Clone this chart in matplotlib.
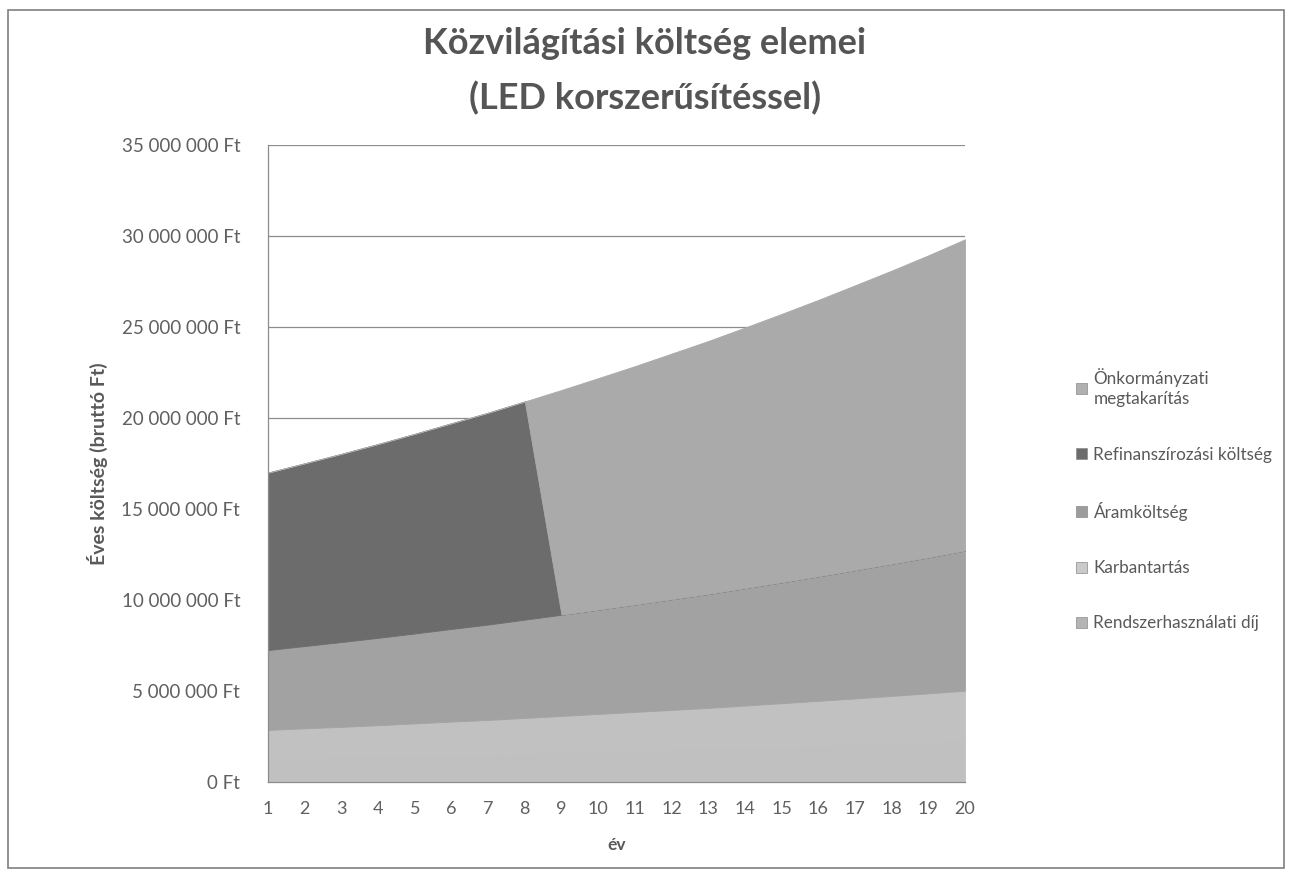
import matplotlib
matplotlib.use("Agg")
import matplotlib.pyplot as plt
from matplotlib.patches import Rectangle, Patch
from matplotlib.ticker import FuncFormatter, MultipleLocator

plt.rcParams['font.family'] = ['Lato', 'DejaVu Sans']

years = list(range(1, 21))
year_labels = [str(y) for y in years]

# values in million Ft
rendszer = [1.30, 1.34, 1.38, 1.42, 1.46, 1.51, 1.55, 1.60, 1.65, 1.70,
            1.75, 1.80, 1.85, 1.91, 1.97, 2.03, 2.09, 2.15, 2.21, 2.28]
karbantartas = [1.56, 1.61, 1.65, 1.70, 1.76, 1.81, 1.86, 1.92, 1.98, 2.04,
                2.10, 2.16, 2.22, 2.29, 2.36, 2.43, 2.50, 2.58, 2.66, 2.74]
aram = [4.39, 4.52, 4.66, 4.80, 4.94, 5.09, 5.24, 5.40, 5.56, 5.73,
        5.90, 6.08, 6.26, 6.45, 6.64, 6.84, 7.05, 7.26, 7.47, 7.70]
refinansz = [9.75, 10.04, 10.34, 10.65, 10.97, 11.30, 11.64, 11.99, 0, 0,
             0, 0, 0, 0, 0, 0, 0, 0, 0, 0]
megtakaritas = [0, 0, 0, 0, 0, 0, 0, 0, 12.35, 12.72,
                13.10, 13.50, 13.90, 14.32, 14.75, 15.19, 15.65, 16.11, 16.60, 17.10]

series_names = ["Rendszerhasználati díj", "Karbantartás", "Áramköltség",
                "Refinanszírozási költség", "Önkormányzati\nmegtakarítás"]
colors = ["#c0c0c0", "#c1c1c1", "#a2a2a2", "#6c6c6c", "#aaaaaa"]
legend_colors = ["#b4b4b4", "#cacaca", "#9c9c9c", "#6c6c6c", "#b0b0b0"]

data = [[v * 1e6 for v in s] for s in (rendszer, karbantartas, aram, refinansz, megtakaritas)]

fig = plt.figure(figsize=(12.9, 8.76), dpi=100)
ax = fig.add_axes([268/1290, 1-782/876, (965-268)/1290, (782-145)/876])

polys = ax.stackplot(years, *data, colors=colors, labels=series_names, zorder=2)
for p, c in zip(polys, colors):
    p.set_edgecolor(c)
    p.set_linewidth(0.6)

ax.set_xlim(1, 20)
ax.set_ylim(0, 35e6)
ax.yaxis.set_major_locator(MultipleLocator(5e6))
ax.set_xticks(years)
ax.set_xticklabels(year_labels)

def fmt(v, pos):
    s = f"{int(round(v)):,}".replace(",", " ")
    return f"{s} Ft"
ax.yaxis.set_major_formatter(FuncFormatter(fmt))

ax.grid(axis='y', color='#8c8c8c', linewidth=0.9, zorder=0)
ax.set_axisbelow(True)
for side in ['top', 'right']:
    ax.spines[side].set_visible(False)
for side in ['left', 'bottom']:
    ax.spines[side].set_color('#8c8c8c')
    ax.spines[side].set_linewidth(0.9)
    ax.spines[side].set_zorder(3)
ax.tick_params(axis='both', length=0, colors='#606060')
ax.tick_params(axis='x', pad=14, labelsize=13)
ax.tick_params(axis='y', pad=20, labelsize=13.5)

ax.set_xlabel("év", fontsize=12.5, fontweight='bold', color='#595959', labelpad=14)
ax.set_ylabel("Éves költség (bruttó Ft)", fontsize=14, fontweight='bold', color='#595959', labelpad=10)

fig.text(0.5 + 0.0, 1-43/876, "Közvilágítási költség elemei", ha='center', va='center',
         fontsize=26, fontweight='bold', color='#555555')
fig.text(0.5 + 0.0, 1-98/876, "(LED korszerűsítéssel)", ha='center', va='center',
         fontsize=26, fontweight='bold', color='#555555')

handles = [Patch(facecolor=legend_colors[i], edgecolor='#8a8a8a', linewidth=0.5, label=series_names[i])
           for i in range(len(series_names))][::-1]
leg = fig.legend(handles=handles, loc='center left', bbox_to_anchor=(1061/1290, 1-500/876),
                 frameon=False, fontsize=12.3, labelcolor='#595959', handlelength=0.6,
                 handleheight=0.6, handletextpad=0.4, labelspacing=2.3)
for t in leg.get_texts():
    t.set_linespacing(1.3)

fig.patches.append(Rectangle((8/1290, 1-868/876), 1276/1290, 858/876, transform=fig.transFigure,
                             fill=False, edgecolor='#7f7f7f', linewidth=1.2))

fig.savefig("out.png", dpi=100, facecolor='white')
